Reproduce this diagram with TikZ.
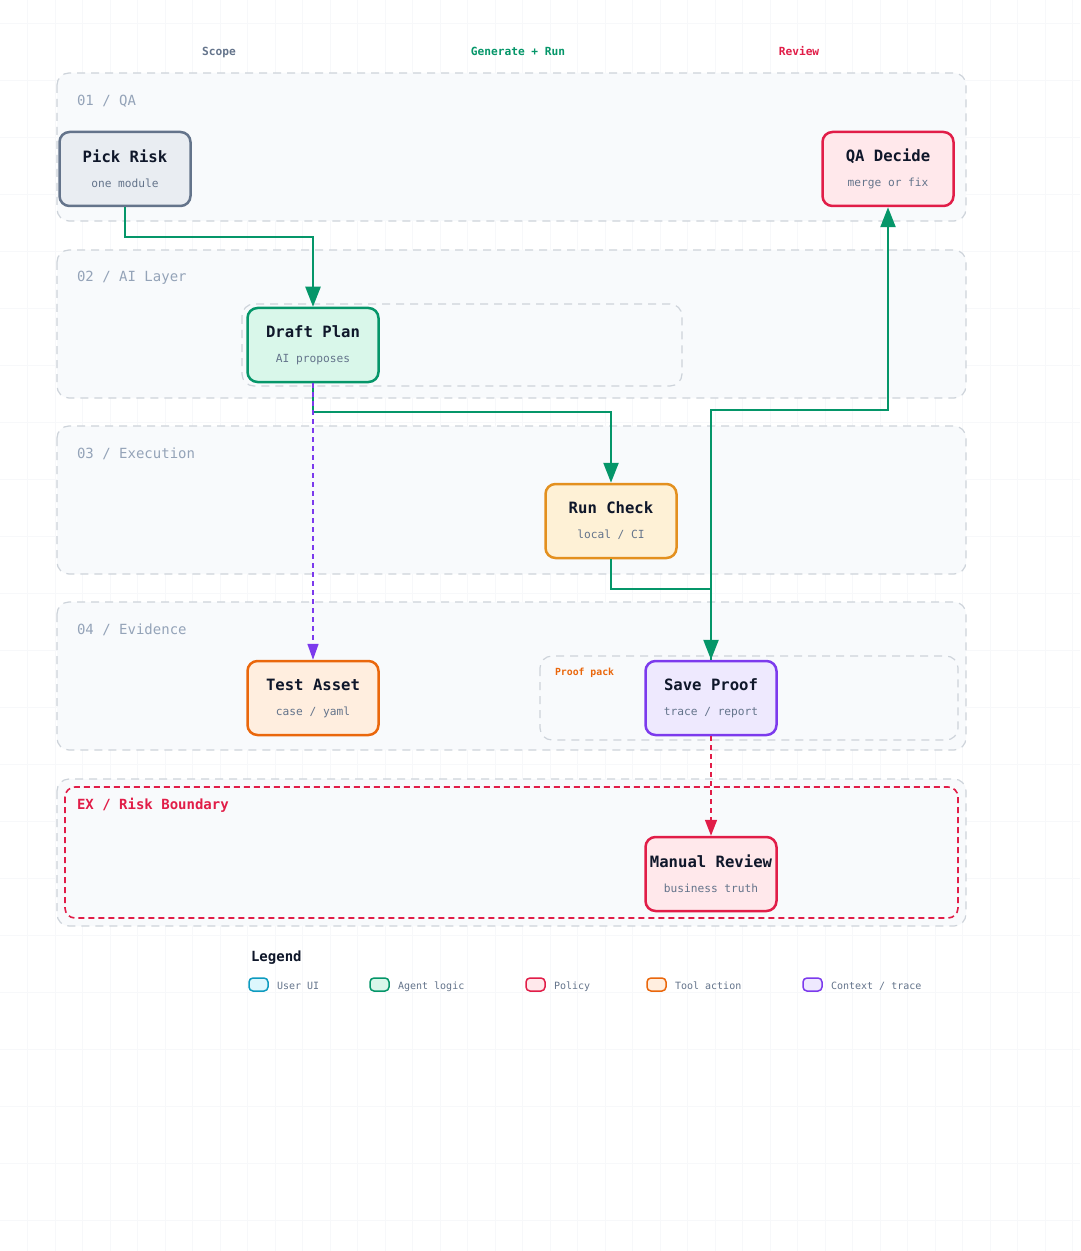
\documentclass[tikz,border=0pt]{standalone}
\usepackage{fontspec}
\setmonofont{DejaVu Sans Mono}
\usepackage{xcolor}
\usetikzlibrary{arrows.meta}

\definecolor{ink}{HTML}{0F172A}
\definecolor{subgray}{HTML}{64748B}
\definecolor{lanegray}{HTML}{94A3B8}
\definecolor{laneline}{HTML}{CDD3DA}
\definecolor{lanefill}{HTML}{F8FAFC}
\definecolor{gridline}{HTML}{F7F8FA}
\definecolor{slateline}{HTML}{64748B}
\definecolor{slatefill}{HTML}{E9EDF2}
\definecolor{greenline}{HTML}{059669}
\definecolor{greenfill}{HTML}{D9F7EA}
\definecolor{redline}{HTML}{E11D48}
\definecolor{redfill}{HTML}{FFE8EB}
\definecolor{amberline}{HTML}{E3901F}
\definecolor{amberfill}{HTML}{FEF1D6}
\definecolor{orangeline}{HTML}{EA670C}
\definecolor{orangefill}{HTML}{FFEEDF}
\definecolor{purpleline}{HTML}{7C3AED}
\definecolor{purplefill}{HTML}{EEE9FE}
\definecolor{cyanline}{HTML}{0E9BBF}
\definecolor{cyanfill}{HTML}{DDF7FD}

\newcommand{\cardtext}[2]{{\fontsize{7.8}{12.5}\selectfont\bfseries\color{ink}#1}\\{\color{subgray}#2}}

\begin{document}
\begin{tikzpicture}[x=0.5pt,y=-0.5pt,
    font=\ttfamily,
    lane/.style={draw=laneline, fill=lanefill, line width=0.6pt,
        dash pattern=on 4pt off 3pt, rounded corners=6pt},
    group/.style={draw=laneline, line width=0.6pt,
        dash pattern=on 4pt off 3pt, rounded corners=6pt},
    lanelabel/.style={anchor=west, text=lanegray, font=\ttfamily\fontsize{7}{8}\selectfont},
    header/.style={font=\ttfamily\bfseries\fontsize{5.6}{7}\selectfont,
        text height=4.2pt, text depth=1.2pt},
    card/.style={draw=#1line, fill=#1fill, line width=1.25pt, rounded corners=5pt,
        minimum width=65.5pt, minimum height=37pt, inner sep=0pt, align=center,
        font=\ttfamily\fontsize{5.6}{12.5}\selectfont},
    flow/.style={draw=greenline, line width=1.2pt, -{Triangle[length=10pt,width=7.5pt]}},
    ctx/.style={draw=purpleline, line width=0.8pt, dash pattern=on 2.5pt off 2pt,
        -{Triangle[length=8pt,width=5.5pt]}},
    esc/.style={draw=redline, line width=0.8pt, dash pattern=on 2.5pt off 2pt,
        -{Triangle[length=8pt,width=6pt]}},
    swatch/.style={draw=#1line, fill=#1fill, line width=0.75pt, rounded corners=2pt}]

    \useasboundingbox[fill=white] (0,0) rectangle (1080,1251);
    \foreach \gx in {27.5,55,...,1080}
        \draw[gridline, line width=0.3pt] (\gx,0) -- (\gx,1251);
    \foreach \gy in {23,80,...,1251}
        \draw[gridline, line width=0.3pt] (0,\gy) -- (1080,\gy);

    % column heads
    \node[header, text=subgray] (hscope) at (219,53) {Scope};
    \node[header, text=greenline] (hgen) at (518,53) {Generate + Run};
    \node[header, text=redline] (hreview) at (799,53) {Review};

    % swimlanes
    \foreach \ly/\lt in {73/{01 / QA}, 250/{02 / AI Layer}, 426/{03 / Execution}, 602/{04 / Evidence}}{
        \draw[lane] (57,\ly) rectangle (966,\ly+148);
        \node[lanelabel] at (70,\ly+28) {\lt};
    }
    \draw[lane] (57,779) rectangle (966,926);
    \draw[redline, line width=0.8pt, dash pattern=on 3pt off 2pt, rounded corners=5pt]
        (65,787) rectangle (958,918);
    \node[lanelabel, text=redline, font=\ttfamily\bfseries\fontsize{7}{8}\selectfont] (exlabel) at (70,805) {EX / Risk Boundary};

    % inner groups
    \draw[group] (242,304) rectangle (682,386);
    \draw[group] (540,656) rectangle (958,740);
    \node[anchor=west, text=orangeline, font=\ttfamily\bfseries\fontsize{4.9}{6}\selectfont] (proofpack) at (548,673) {Proof pack};

    % steps
    \node[card=slate] (pick) at (125,169) {\cardtext{Pick Risk}{one module}};
    \node[card=red] (qa) at (888,169) {\cardtext{QA Decide}{merge or fix}};
    \node[card=green] (draft) at (313,345) {\cardtext{Draft Plan}{AI proposes}};
    \node[card=amber] (run) at (611,521) {\cardtext{Run Check}{local / CI}};
    \node[card=orange] (test) at (313,698) {\cardtext{Test Asset}{case / yaml}};
    \node[card=purple] (save) at (711,698) {\cardtext{Save Proof}{trace / report}};
    \node[card=red] (manual) at (711,874) {\cardtext{Manual Review}{business truth}};

    % connectors
    \draw[flow] (pick.south) -- ++(0,30) -| (draft.north);
    \draw[flow] (draft.south) -- ++(0,29) -| (run.north);
    \draw[flow] (run.south) -- ++(0,30) -| (save.north);
    \draw[flow] (save.north) -- ++(0,-250) -| (qa.south);
    \draw[ctx] (draft.south) -- (test.north);
    \draw[esc] (save.south) -- (manual.north);

    % legend
    \node[anchor=west, text=ink, font=\ttfamily\bfseries\fontsize{7}{8}\selectfont] (legend) at (244,958) {Legend};
    \foreach \lx/\lc/\lt in {249/cyan/{User UI}, 370/green/{Agent logic}, 526/red/{Policy}, 647/orange/{Tool action}, 803/purple/{Context / trace}}{
        \draw[swatch=\lc] (\lx,978) rectangle (\lx+19,991);
        \node[anchor=west, text=subgray, font=\ttfamily\fontsize{5}{6}\selectfont,
            text height=3.8pt, text depth=1.1pt] (leg-\lc) at (\lx+21,987) {\lt};
    }
\end{tikzpicture}
\end{document}
